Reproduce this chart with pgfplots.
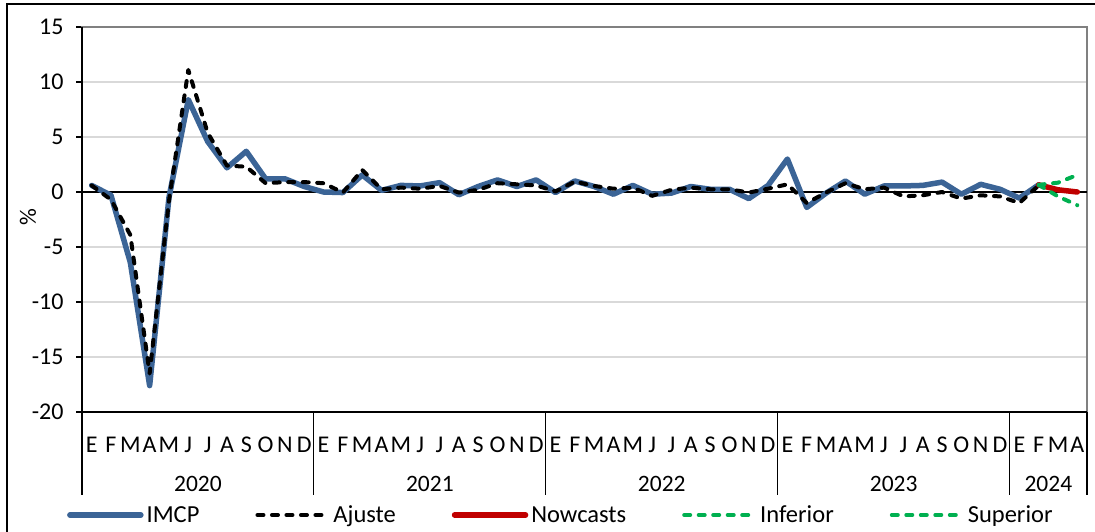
\documentclass[border=0pt]{standalone}
\usepackage{fontspec}
\setmainfont{Carlito}
\usepackage{pgfplots}
\usepackage{pgfplotstable}
\pgfplotsset{compat=1.18}
\definecolor{imcp}{RGB}{59,100,150}
\definecolor{nowc}{RGB}{192,0,0}
\definecolor{grn}{RGB}{0,176,80}
\definecolor{gridc}{RGB}{217,217,217}
\definecolor{boxc}{RGB}{128,128,128}

\pgfplotstableread{
m imcp ajuste
0 0.6 0.6
1 -0.3 -0.7
2 -6.4 -3.9
3 -17.6 -16.5
4 -0.5 -0.8
5 8.4 11.1
6 4.6 5.4
7 2.2 2.4
8 3.7 2.3
9 1.2 0.8
10 1.2 0.9
11 0.5 0.9
12 0.0 0.8
13 -0.05 -0.05
14 1.55 2.0
15 0.15 0.25
16 0.6 0.4
17 0.55 0.3
18 0.85 0.55
19 -0.25 -0.05
20 0.5 0.2
21 1.1 0.8
22 0.5 0.7
23 1.1 0.6
24 -0.05 0.05
25 1.0 0.95
26 0.5 0.55
27 -0.2 0.3
28 0.6 0.4
29 -0.2 -0.35
30 -0.1 0.2
31 0.5 0.4
32 0.25 0.25
33 0.25 0.25
34 -0.6 -0.05
35 0.6 0.3
36 3.0 0.7
37 -1.4 -1.0
38 -0.1 -0.05
39 1.0 0.8
40 -0.2 0.25
41 0.55 0.4
42 0.55 -0.4
43 0.6 -0.3
44 0.9 0.0
45 -0.2 -0.6
46 0.7 -0.3
47 0.25 -0.4
48 -0.55 -1.0
49 0.65 0.6
}\datamain

\pgfplotstableread{
m now inf sup
49 0.65 0.65 0.65
50 0.2 -0.4 0.85
51 0.0 -1.2 1.55
}\datanow

\begin{document}
\begin{tikzpicture}[x=1pt,y=1pt,font=\fontsize{23.5}{27}\selectfont]
\useasboundingbox (0,0) rectangle (1095,-531);
\draw[black,line width=1.3pt] (7,-540) -- (7,-4) -- (1100,-4);
\begin{axis}[
  at={(82pt,-412pt)}, anchor=south west,
  scale only axis, width=1005pt, height=385pt,
  xmin=-0.5, xmax=51.5, ymin=-20, ymax=15,
  clip=false,
  /pgf/number format/assume math mode=true,
  ytick={-20,-15,...,15},
  ymajorgrids, major grid style={gridc, line width=1.4pt},
  xtick={0,...,51},
  xticklabels={E,F,M,A,M,J,J,A,S,O,N,D,E,F,M,A,M,J,J,A,S,O,N,D,E,F,M,A,M,J,J,A,S,O,N,D,E,F,M,A,M,J,J,A,S,O,N,D,E,F,M,A},
  xtick style={draw=none},
  ytick style={black, line width=1.2pt},
  tick pos=left, tick align=outside, major tick length=6pt,
  axis line style={boxc, line width=1.3pt},
  tick label style={font=\fontsize{24}{28}\selectfont},
  xticklabel style={anchor=center, yshift=-33pt+6pt},
  yticklabel style={anchor=east, xshift=-9pt},
  ylabel={\%},
  every axis y label/.style={at={(axis description cs:-0.0537,0.506)}, rotate=90, anchor=center},
  legend columns=5,
  legend style={draw=none, fill=none, at={(axis description cs:-0.015,-0.2675)}, anchor=west, inner sep=0pt,
    font=\fontsize{24.5}{28}\selectfont,
    /tikz/every even column/.append style={column sep=53pt},
    nodes={inner sep=3pt}},
  legend image code/.code={\draw[#1] (0pt,0pt) -- (71pt,0pt);},
]
\draw[black,line width=1.2pt] (axis cs:-0.5,0) -- (axis cs:51.5,0);
\draw[black,line width=1.3pt] (axis cs:-0.5,15) -- (axis cs:-0.5,-20) -- (axis cs:51.5,-20);
\foreach \s in {-0.5,11.5,23.5,35.5,47.5,51.5} {
  \edef\tmp{\noexpand\draw[black,line width=1.1pt] (axis cs:\s,-20) -- ++(0pt,-83pt);}
  \tmp
}
\node[yshift=-72pt] at (axis cs:5.5,-20) {2020};
\node[yshift=-72pt] at (axis cs:17.5,-20) {2021};
\node[yshift=-72pt] at (axis cs:29.5,-20) {2022};
\node[yshift=-72pt] at (axis cs:41.5,-20) {2023};
\node[yshift=-72pt] at (axis cs:49.5,-20) {2024};

\addplot[imcp, line width=5.5pt, line join=round, line cap=round] table[x=m,y=imcp] {\datamain};
\addlegendentry{IMCP}
\addplot[black, line width=4pt, dash pattern=on 6pt off 8.5pt, line cap=round, line join=round] table[x=m,y=ajuste] {\datamain};
\addlegendentry{Ajuste}
\addplot[nowc, line width=5.5pt, line cap=round, line join=round] table[x=m,y=now] {\datanow};
\addlegendentry{Nowcasts}
\addplot[grn, line width=4pt, dash pattern=on 6pt off 8.5pt, line cap=round] table[x=m,y=inf] {\datanow};
\addlegendentry{Inferior}
\addplot[grn, line width=4pt, dash pattern=on 6pt off 8.5pt, line cap=round] table[x=m,y=sup] {\datanow};
\addlegendentry{Superior}
\end{axis}
\end{tikzpicture}
\end{document}
